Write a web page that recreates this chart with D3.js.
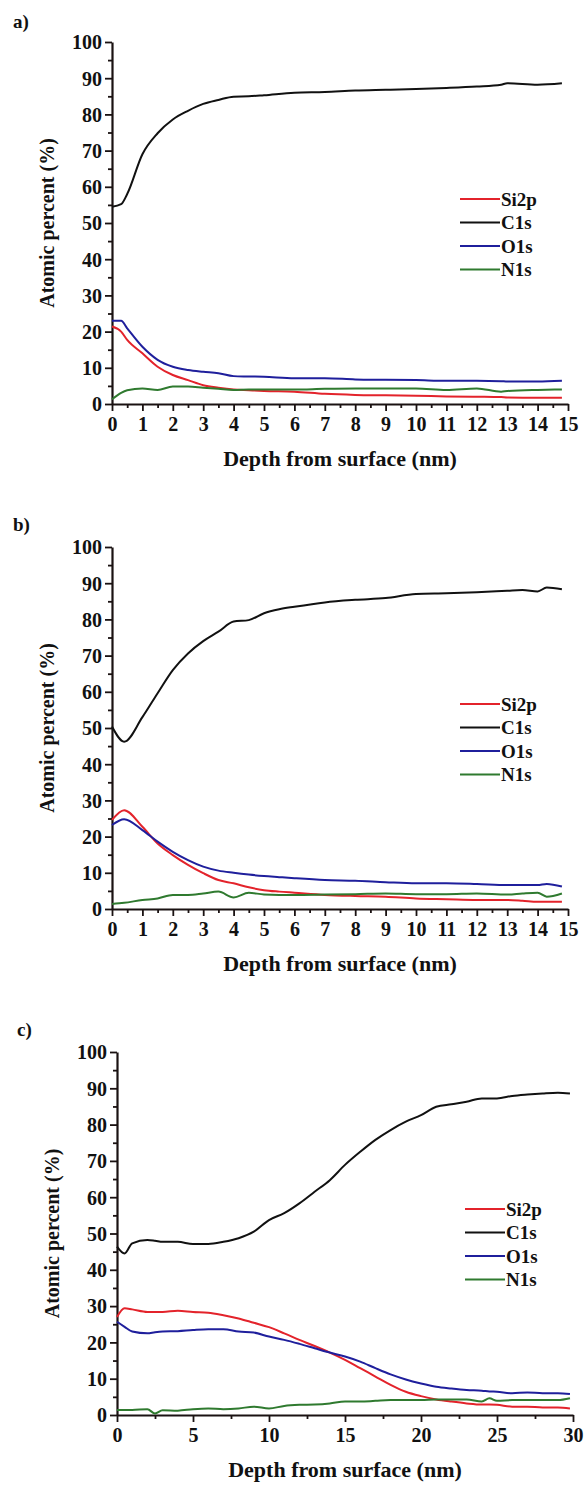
<!DOCTYPE html>
<html><head><meta charset="utf-8">
<script src="https://cdn.jsdelivr.net/npm/d3@7"></script>
<style>
html,body{margin:0;padding:0;background:#fff;}
svg{display:block;}
text{font-family:"Liberation Serif","Times New Roman",serif;font-weight:bold;fill:#111;}
</style></head>
<body>
<svg id="chart" width="585" height="1487"></svg>
<script>
// ---------- DATA ----------
const seriesNames = ["Si2p", "C1s", "O1s", "N1s"];
const yTickValues = [0,10,20,30,40,50,60,70,80,90,100];
const xTicksAB = [0,1,2,3,4,5,6,7,8,9,10,11,12,13,14,15];
const xTicksC = [0,5,10,15,20,25,30];

// panel a
const aDepth = [0,0.3,0.5,1,1.5,2,2.5,3,3.5,4,4.5,5,6,7,8,9,10,11,12,12.8,13,14,14.8];
const aSi2p  = [21.4,20,17.7,14,10.3,8,6.6,5.2,4.5,4,3.8,3.6,3.4,2.8,2.5,2.4,2.3,2.1,2,1.9,1.8,1.7,1.7];
const aC1s   = [54.5,55.2,58,69,74.8,78.6,81,82.9,84,84.9,85,85.3,86,86.2,86.6,86.8,87,87.3,87.7,88.2,88.6,88.2,88.6];
const aO1s   = [23,23,20.9,15.8,12.2,10.3,9.4,8.9,8.5,7.7,7.6,7.5,7.1,7.1,6.8,6.7,6.6,6.4,6.4,6.3,6.2,6.2,6.4];
const aN1s   = [1.3,3.1,3.8,4.3,3.9,4.8,4.8,4.5,4.2,3.9,4,4,4,4.2,4.3,4.3,4.3,3.9,4.3,3.4,3.6,3.9,4];

// panel b
const bDepth = [0,0.4,1,1.5,2,2.5,3,3.5,4,4.5,5,5.5,6,7,8,9,10,11,12,13,13.5,14,14.3,14.8];
const bSi2p  = [24.6,27.3,22.7,18.1,14.9,12.2,9.9,8,7.1,6,5.2,4.8,4.5,3.9,3.6,3.4,2.9,2.7,2.5,2.5,2.3,2,2,2];
const bC1s   = [50.4,46.2,53,59.6,66,70.6,74,76.6,79.4,79.8,81.7,82.8,83.5,84.7,85.4,85.9,87,87.2,87.5,87.9,88.1,87.7,88.8,88.3];
const bO1s   = [23.2,24.8,21.8,18.6,15.8,13.5,11.7,10.6,10,9.5,9.1,8.8,8.5,8,7.8,7.4,7.1,7.1,6.9,6.6,6.6,6.6,6.9,6.2];
const bN1s   = [1.4,1.7,2.5,2.9,3.9,3.9,4.3,4.8,3.2,4.5,4,3.9,3.9,4,4.1,4.3,4.1,4.1,4.3,4,4.3,4.5,3.4,4.3];

// panel c
const cDepth = [0,0.5,1,2,2.5,3,4,5,6,7,8,9,10,11,12,13,14,15,16,17,18,19,20,21,22,23,24,24.5,25,26,27,28,29,29.8];
const cSi2p  = [27,29.4,29.1,28.4,28.4,28.4,28.7,28.4,28.2,27.5,26.6,25.4,24.2,22.5,20.7,19,17.2,15.2,12.9,10.6,8.3,6.4,5.2,4.3,3.7,3.2,2.9,2.9,2.8,2.3,2.3,2.1,2.1,1.8];
const cC1s   = [46.4,44.5,47.3,48.2,48,47.7,47.7,47.1,47.1,47.7,48.7,50.5,53.7,55.6,58.3,61.5,64.7,68.9,72.5,75.8,78.5,80.8,82.6,84.9,85.6,86.3,87.2,87.2,87.2,87.9,88.3,88.6,88.8,88.6];
const cO1s   = [25.7,24.3,23,22.5,22.8,23,23.1,23.4,23.6,23.6,23,22.7,21.6,20.7,19.6,18.4,17.2,16.1,14.7,12.9,11.2,9.8,8.7,7.8,7.3,6.9,6.7,6.5,6.4,6,6.2,6,6,5.8];
const cN1s   = [1.4,1.4,1.4,1.6,0.4,1.3,1.2,1.6,1.8,1.6,1.8,2.3,1.8,2.5,2.8,2.9,3.2,3.7,3.7,3.9,4.1,4.1,4.1,4.3,4.3,4.3,3.7,4.6,3.9,4.1,4.1,4.1,4.1,4.6];

// ---------- STYLE / LAYOUT ----------
const colors = ["#e3232b", "#111111", "#1f1f9c", "#2f7a2f"];
const axisColor = "#1a1212";

const panels = [
  {label:"a)", depth:aDepth, vals:[aSi2p,aC1s,aO1s,aN1s], xMax:15, xTicks:xTicksAB, minorStep:0.5,
   left:112, right:568, top:42, bottom:404, labelX:13, labelY:28},
  {label:"b)", depth:bDepth, vals:[bSi2p,bC1s,bO1s,bN1s], xMax:15, xTicks:xTicksAB, minorStep:0.5,
   left:112, right:568, top:547, bottom:909, labelX:13, labelY:531},
  {label:"c)", depth:cDepth, vals:[cSi2p,cC1s,cO1s,cN1s], xMax:30, xTicks:xTicksC, minorStep:2.5,
   left:117, right:573, top:1052, bottom:1415, labelX:17, labelY:1036}
];

const svg = d3.select("#chart");
svg.append("rect").attr("width",585).attr("height",1487).attr("fill","#fff");

panels.forEach(p => {
  const x = d3.scaleLinear().domain([0, p.xMax]).range([p.left, p.right]);
  const y = d3.scaleLinear().domain([0, 100]).range([p.bottom, p.top]);
  const g = svg.append("g");

  g.append("text").attr("x", p.labelX).attr("y", p.labelY)
    .attr("font-size", 19).text(p.label);

  const xMinor = d3.range(0, p.xMax + 1e-9, p.minorStep).filter(v => !p.xTicks.includes(v));
  const yMinor = d3.range(5, 100, 10);

  g.append("g").attr("transform", `translate(0,${p.bottom})`)
    .call(d3.axisBottom(x).tickValues(xMinor).tickSize(4).tickFormat(""))
    .call(s => s.select(".domain").remove())
    .selectAll("line").attr("stroke", axisColor).attr("stroke-width", 1.8);

  g.append("g").attr("transform", `translate(${p.left},0)`)
    .call(d3.axisLeft(y).tickValues(yMinor).tickSize(4).tickFormat(""))
    .call(s => s.select(".domain").remove())
    .selectAll("line").attr("stroke", axisColor).attr("stroke-width", 1.8);

  const xa = g.append("g").attr("transform", `translate(0,${p.bottom})`)
    .call(d3.axisBottom(x).tickValues(p.xTicks).tickSize(7).tickSizeOuter(0).tickPadding(6).tickFormat(d3.format("d")));
  const ya = g.append("g").attr("transform", `translate(${p.left},0)`)
    .call(d3.axisLeft(y).tickValues(yTickValues).tickSize(7).tickSizeOuter(0).tickPadding(3).tickFormat(d3.format("d")));
  [xa, ya].forEach(a => {
    a.select(".domain").attr("stroke", axisColor).attr("stroke-width", 2.2);
    a.selectAll(".tick line").attr("stroke", axisColor).attr("stroke-width", 1.8);
    a.selectAll(".tick text").attr("fill", "#111").attr("font-size", 20)
      .attr("font-family", '"Liberation Serif","Times New Roman",serif').attr("font-weight", "bold");
  });
  ya.selectAll(".tick text").attr("dy", "0.34em");

  g.append("text").attr("x", (p.left + p.right) / 2).attr("y", p.bottom + 62)
    .attr("text-anchor", "middle").attr("font-size", 22).text("Depth from surface (nm)");
  g.append("text").attr("transform", `translate(${p.left - 58},${(p.top + p.bottom) / 2}) rotate(-90)`)
    .attr("text-anchor", "middle").attr("font-size", 20).text("Atomic percent (%)");

  const line = d3.line().curve(d3.curveMonotoneX);
  seriesNames.forEach((name, i) => {
    const pts = p.depth.map((d, k) => [x(d), y(p.vals[i][k])]);
    g.append("path").attr("d", line(pts)).attr("fill", "none")
      .attr("stroke", colors[i]).attr("stroke-width", 2).attr("stroke-linejoin", "round");
  });

  const lx = p.right - 108, ly = p.top + 157;
  seriesNames.forEach((name, i) => {
    const yy = ly + i * 23.5;
    g.append("line").attr("x1", lx).attr("x2", lx + 40).attr("y1", yy).attr("y2", yy)
      .attr("stroke", colors[i]).attr("stroke-width", 2);
    g.append("text").attr("x", lx + 41).attr("y", yy).attr("dy", "0.35em")
      .attr("font-size", 19).text(name);
  });
});
</script>
</body></html>
